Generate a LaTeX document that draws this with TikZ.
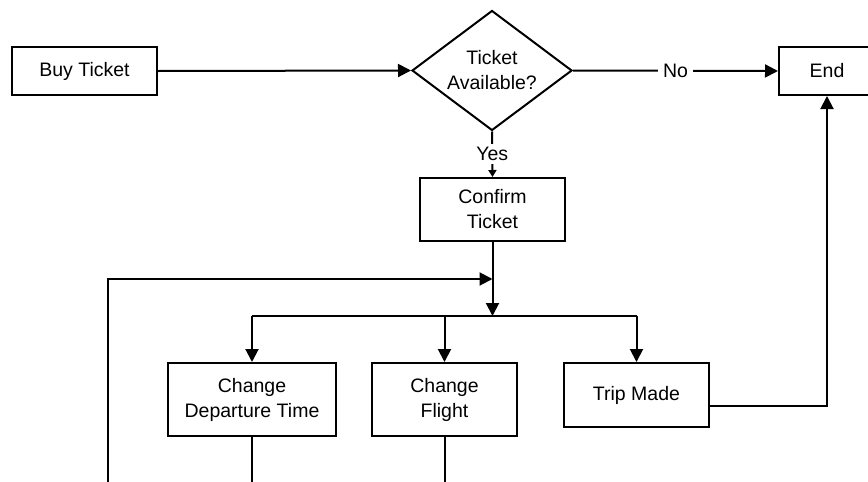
\documentclass[tikz,border=0pt]{standalone}
\usepackage{fontspec}
\setmainfont{Liberation Sans}
\usetikzlibrary{shapes.geometric,arrows.meta,calc}

\tikzset{
  flow/.style={line width=2pt, line join=miter},
  box/.style={draw, line width=2pt, rectangle, inner sep=0pt, align=center,
    font=\fontsize{19.5}{25}\selectfont},
  decision/.style={draw, line width=2pt, diamond, aspect=1.333, inner sep=0pt,
    minimum width=160pt, minimum height=120pt, align=center,
    font=\fontsize{19.5}{25}\selectfont},
  tag/.style={fill=white, inner xsep=5pt, inner ysep=3pt, font=\fontsize{19.5}{25}\selectfont},
  tip/.style={-{Triangle[length=13pt,width=13pt]}},
  smalltip/.style={-{Triangle[length=7pt,width=8pt]}},
}

\begin{document}
\begin{tikzpicture}[x=1pt, y=-1pt]
  \useasboundingbox (0,0) rectangle (868,482);
  \clip (0,0) rectangle (868,482);

  % process boxes
  \node[box, minimum width=145pt, minimum height=48pt] (buy) at (84.5,71) {Buy Ticket};
  \node[decision] (avail) at (492,70.5) {Ticket\\Available?};
  \node[box, minimum width=96pt, minimum height=48pt] (end) at (827,71) {End};
  \node[box, minimum width=145pt, minimum height=63pt] (confirm) at (492.5,209.5) {Confirm\\Ticket};
  \node[box, minimum width=168pt, minimum height=73pt] (dep) at (252,399.5) {Change\\Departure Time};
  \node[box, minimum width=145pt, minimum height=73pt] (flight) at (444.5,399.5) {Change\\Flight};
  \node[box, minimum width=145pt, minimum height=64pt] (trip) at (636.5,395) {Trip Made};

  % junction points
  \coordinate (merge) at (492.5,279);
  \coordinate (split) at (492.5,316);
  \coordinate (loopin) at (108,495);
  \coordinate (depout) at (252,495);
  \coordinate (flightout) at (444.5,495);

  % main line
  \draw[flow, tip] (buy.east) -- (avail.west);
  \draw[flow, tip] (avail.east) -- node[tag] {No} (end.west);
  \draw[flow, smalltip] (avail.south) -- node[tag] {Yes} (confirm.north);
  \draw[flow, tip] (confirm.south) -- (split);

  % branches
  \draw[flow] (dep.north |- split) -- (trip.north |- split);
  \draw[flow, tip] (dep.north |- split) -- (dep.north);
  \draw[flow, tip] (flight.north |- split) -- (flight.north);
  \draw[flow, tip] (trip.north |- split) -- (trip.north);

  % return loop
  \draw[flow, tip] (loopin) |- (merge);
  \draw[flow] (dep.south) -- (depout);
  \draw[flow] (flight.south) -- (flightout);

  % trip completed
  \draw[flow, tip] ([yshift=-11pt]trip.east) -| (end.south);
\end{tikzpicture}
\end{document}
